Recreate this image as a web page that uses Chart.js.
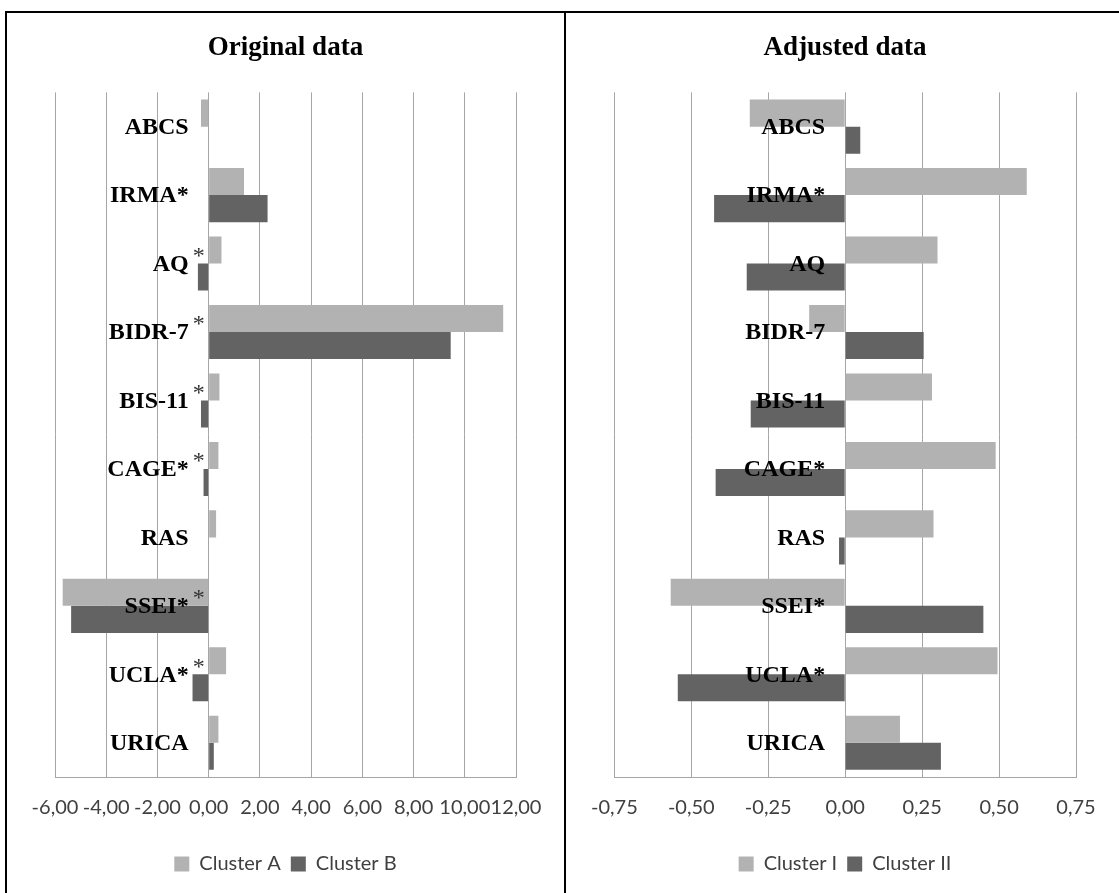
<!DOCTYPE html>
<html>
<head>
<meta charset="utf-8">
<script src="https://cdn.jsdelivr.net/npm/chart.js@4.4.1/dist/chart.umd.min.js"></script>
<style>
  html, body { margin: 0; padding: 0; background: #fff; overflow: hidden; }
  body { width: 1119px; height: 893px; position: relative; }
  .line { position: absolute; background: #000; }
  canvas { position: absolute; }
</style>
</head>
<body>
<div class="line" style="left:5px; top:11px; width:1114px; height:2px;"></div>
<div class="line" style="left:5px; top:11px; width:2px; height:882px;"></div>
<div class="line" style="left:564px; top:11px; width:2px; height:882px;"></div>
<canvas id="original" width="555" height="879" style="left:8px; top:14px;"></canvas>
<canvas id="adjusted" width="547" height="879" style="left:572px; top:14px;"></canvas>
<script>
// Categories (top to bottom)
var categories = ["ABCS", "IRMA*", "AQ", "BIDR-7", "BIS-11", "CAGE*", "RAS", "SSEI*", "UCLA*", "URICA"];
// extra superscript asterisks on the left chart
var originalMarks = ["", "", "*", "*", "*", "*", "", "*", "*", ""];

// Original data
var clusterA = [-0.3, 1.38, 0.5, 11.5, 0.42, 0.38, 0.29, -5.7, 0.68, 0.38];
var clusterB = [0, 2.3, -0.42, 9.45, -0.3, -0.2, 0.02, -5.37, -0.63, 0.2];
var originalTicks = [-6, -4, -2, 0, 2, 4, 6, 8, 10, 12];

// Adjusted data
var clusterI = [-0.31, 0.59, 0.30, -0.117, 0.282, 0.489, 0.287, -0.567, 0.495, 0.178];
var clusterII = [0.049, -0.426, -0.32, 0.255, -0.307, -0.421, -0.02, 0.449, -0.544, 0.311];
var adjustedTicks = [-0.75, -0.5, -0.25, 0, 0.25, 0.5, 0.75];

var lightGrey = '#b2b2b2';
var darkGrey = '#636363';
var gridGrey = '#a6a6a6';
var textGrey = '#404040';

function fmt(v) {
    return Number(v).toFixed(2).replace('.', ',');
}

// draws the category names next to the zero line, like Excel does
var zeroLabels = {
    id: 'zeroLabels',
    afterDatasetsDraw: function(chart, args, opts) {
        var ctx = chart.ctx;
        var x0 = chart.scales.x.getPixelForValue(0);
        ctx.save();
        for (var i = 0; i < categories.length; i++) {
            var y = chart.scales.y.getPixelForValue(i);
            ctx.font = 'bold 24px "Liberation Serif"';
            ctx.fillStyle = '#000';
            ctx.textAlign = 'right';
            ctx.textBaseline = 'middle';
            ctx.fillText(categories[i], x0 - 20, y + 1);
            if (opts.marks && opts.marks[i]) {
                ctx.font = '24px "Liberation Serif"';
                ctx.fillStyle = '#333';
                ctx.textAlign = 'left';
                ctx.fillText(opts.marks[i], x0 - 16, y - 7);
            }
        }
        ctx.restore();
    }
};

function makeChart(id, title, names, dataA, dataB, ticks, pad, marks) {
    var ctx = document.getElementById(id).getContext("2d");
    return new Chart(ctx, {
        type: 'bar',
        data: {
            labels: categories,
            datasets: [{
                label: names[0],
                data: dataA,
                backgroundColor: lightGrey,
                borderWidth: 0,
                categoryPercentage: 0.79,
                barPercentage: 1.0
            }, {
                label: names[1],
                data: dataB,
                backgroundColor: darkGrey,
                borderWidth: 0,
                categoryPercentage: 0.79,
                barPercentage: 1.0
            }]
        },
        options: {
            indexAxis: 'y',
            responsive: false,
            animation: false,
            layout: {
                padding: { left: pad[0], right: pad[1], top: 0, bottom: 9 }
            },
            scales: {
                x: {
                    type: 'linear',
                    min: ticks[0],
                    max: ticks[ticks.length - 1],
                    afterBuildTicks: function(scale) {
                        scale.ticks = ticks.map(function(v) { return { value: v }; });
                    },
                    afterFit: function(scale) {
                        scale.height += 5;
                    },
                    grid: {
                        color: gridGrey,
                        lineWidth: 1,
                        drawTicks: false
                    },
                    border: { display: true, color: gridGrey, width: 1 },
                    ticks: {
                        autoSkip: false,
                        maxRotation: 0,
                        minRotation: 0,
                        padding: 19,
                        color: textGrey,
                        font: { family: 'Lato', size: 20 },
                        callback: function(v) { return fmt(v); }
                    }
                },
                y: {
                    display: false
                }
            },
            plugins: {
                title: {
                    display: true,
                    text: title,
                    color: '#000',
                    font: { family: '"Liberation Serif"', size: 27, weight: 'bold' },
                    padding: { top: 18, bottom: 28 }
                },
                legend: {
                    display: true,
                    position: 'bottom',
                    labels: {
                        boxWidth: 15,
                        boxHeight: 15,
                        padding: 10,
                        color: textGrey,
                        font: { family: 'Lato', size: 20 }
                    }
                },
                tooltip: { enabled: false },
                zeroLabels: { marks: marks }
            }
        },
        plugins: [zeroLabels]
    });
}

var originalChart = makeChart("original", "Original data", ["Cluster A", "Cluster B"],
    clusterA, clusterB, originalTicks, [47, 47], originalMarks);
var adjustedChart = makeChart("adjusted", "Adjusted data", ["Cluster I", "Cluster II"],
    clusterI, clusterII, adjustedTicks, [42, 43], null);
</script>
</body>
</html>
